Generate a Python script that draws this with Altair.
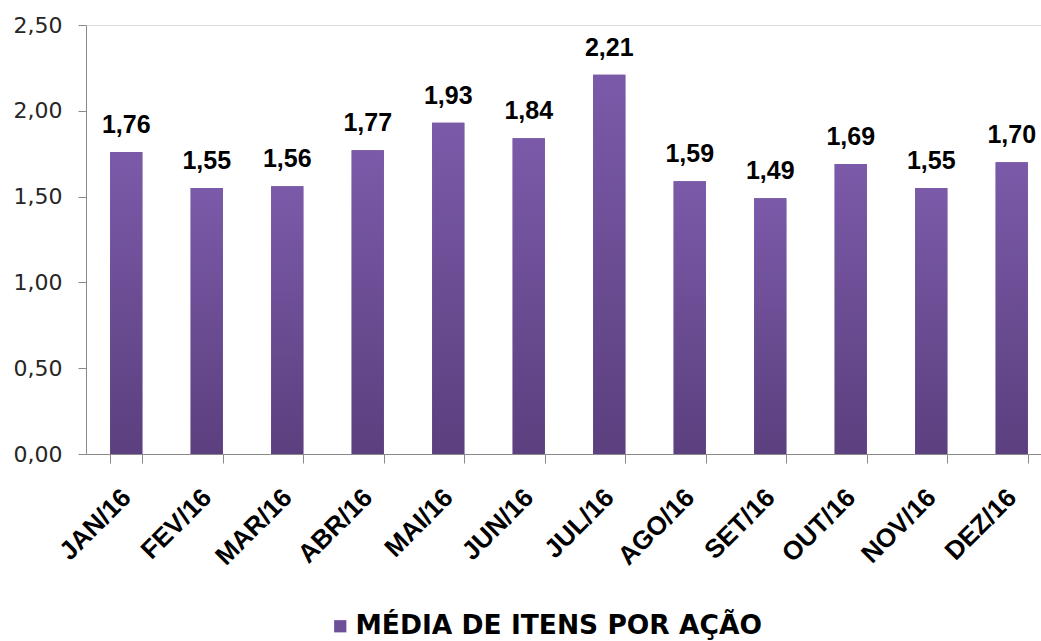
import altair as alt
import pandas as pd

months = ["JAN/16", "FEV/16", "MAR/16", "ABR/16", "MAI/16", "JUN/16",
          "JUL/16", "AGO/16", "SET/16", "OUT/16", "NOV/16", "DEZ/16"]
values = [1.76, 1.55, 1.56, 1.77, 1.93, 1.84, 2.21, 1.59, 1.49, 1.69, 1.55, 1.70]
series_name = "MÉDIA DE ITENS POR AÇÃO"
y_ticks = [0, 0.5, 1.0, 1.5, 2.0, 2.5]

df = pd.DataFrame({"mes": months, "valor": values, "serie": [series_name] * len(months)})

AXIS_GRAY = "#8a8a8a"

x_enc = alt.X(
    "mes:N", sort=months,
    scale=alt.Scale(range=[0, 966], paddingInner=0.6, paddingOuter=0.3),
    axis=alt.Axis(
        title=None, labelAngle=-45, labelAlign="right", labelBaseline="middle",
        labelFont="Liberation Sans", labelFontWeight="bold", labelFontSize=26,
        labelColor="#000000", labelPadding=30, tickBand="extent", tickSize=9,
        tickColor=AXIS_GRAY, domainColor=AXIS_GRAY, labelOverlap=False,
    ),
)
y_enc = alt.Y(
    "valor:Q",
    scale=alt.Scale(domain=[0, 2.5], nice=False, zero=True),
    axis=alt.Axis(
        title=None, values=y_ticks, grid=False,
        labelExpr="replace(format(datum.value, '.2f'), '.', ',')",
        labelFont="DejaVu Sans", labelFontSize=22, labelColor="#262626",
        labelPadding=16, tickSize=8, tickColor=AXIS_GRAY, domainColor=AXIS_GRAY,
    ),
)

base = alt.Chart(df)

legend_bars = base.mark_bar().encode(
    x=x_enc, y=y_enc,
    color=alt.Color(
        "serie:N",
        scale=alt.Scale(range=["#6e4f9a"]),
        legend=alt.Legend(
            title=None, orient="none", legendX=241, legendY=588,
            symbolType="square", symbolSize=150, symbolStrokeWidth=0,
            labelFont="DejaVu Sans", labelFontWeight="bold", labelFontSize=26.5,
            labelColor="#000000", labelOffset=2, labelLimit=600,
        ),
    ),
)

gradient = alt.Gradient(
    gradient="linear",
    stops=[alt.GradientStop(color="#7b5aa9", offset=0),
           alt.GradientStop(color="#5b3f7e", offset=1)],
    x1=0, x2=0, y1=0, y2=1,
)

bars = base.mark_bar(fill=gradient).encode(x=x_enc, y=y_enc)

labels = base.transform_calculate(
    label="replace(format(datum.valor, '.2f'), '.', ',')"
).mark_text(
    font="Liberation Sans", fontWeight="bold", fontSize=25,
    baseline="alphabetic", dy=-19, color="#000000",
).encode(x=x_enc, y=y_enc, text="label:N")

chart = alt.layer(legend_bars, bars, labels).properties(
    width=955, height=429,
    autosize=alt.AutoSizeParams(type="none"),
    padding={"left": 86, "top": 25, "right": 0, "bottom": 187},
).configure_view(stroke=None).configure(background="white")

chart.save("out.html", embed_options={"renderer": "svg", "actions": False})
